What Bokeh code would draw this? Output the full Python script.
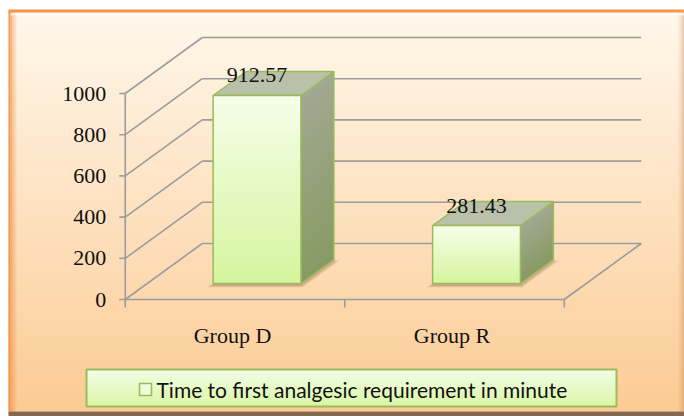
import numpy as np
from bokeh.plotting import figure
from bokeh.models import Range1d
from bokeh.core.properties import value
from bokeh.embed import file_html
from bokeh.resources import INLINE

# ---------------- data ----------------
categories = ["Group D", "Group R"]
values = [912.57, 281.43]
value_labels = ["912.57", "281.43"]
y_ticks = [0, 200, 400, 600, 800, 1000]
y_tick_labels = ["0", "200", "400", "600", "800", "1000"]
legend_label = "Time to first analgesic requirement in minute"

# ---------------- layout constants ----------------
W, H = 684, 416
PX_X = 219.5      # pixels per category slot
PX_Y = 0.206      # pixels per value unit
ORG_X, ORG_Y = 234.5, 299.0   # canvas position of (category 0, value 0)

def X(px):        # canvas x -> data x
    return (px - ORG_X) / PX_X

def Y(py):        # canvas y -> data y
    return (ORG_Y - py) / PX_Y

def sx(d):        # pixel distance -> data x distance
    return d / PX_X

def sy(d):        # pixel distance -> data y distance
    return d / PX_Y

x_start, x_end = X(0), X(W)
y_start, y_end = Y(H), Y(0)

DX, DY = sx(77), sy(56)      # full depth of the 3-D floor
T0, T1 = 0.286, 0.714        # bar depth span
HALF = 0.2                   # half bar width (category units)

p = figure(width=W, height=H, output_backend="svg", toolbar_location=None,
           x_range=Range1d(x_start, x_end), y_range=Range1d(y_start, y_end),
           x_axis_location=None, y_axis_location=None, min_border=0)
p.grid.visible = False
p.outline_line_color = None
p.background_fill_color = "#ffffff"
p.border_fill_color = "#ffffff"


def lerp_hex(c1, c2, f):
    a = [int(c1[i:i + 2], 16) for i in (1, 3, 5)]
    b = [int(c2[i:i + 2], 16) for i in (1, 3, 5)]
    return "#%02x%02x%02x" % tuple(int(round(a[k] + (b[k] - a[k]) * f)) for k in range(3))


def vgrad_quad(left, right, bottom, top, c_bottom, c_top, n=40):
    edges = np.linspace(bottom, top, n + 1)
    step = (top - bottom) / n
    cols = [lerp_hex(c_bottom, c_top, (i + 0.5) / n) for i in range(n)]
    p.quad(left=left, right=right, bottom=edges[:-1],
           top=np.minimum(edges[1:] + step * 0.6, top),
           fill_color=cols, line_color=None)

# ---------------- background / frame ----------------
vgrad_quad(X(8), x_end, Y(411), Y(9), "#fccb94", "#fff8ec", n=90)
# left bevel
for i, a in enumerate([0.85, 0.55, 0.35, 0.2]):
    p.quad(left=X(8 + 2 * i), right=X(10 + 2 * i), bottom=Y(411), top=Y(11),
           fill_color="#f08a3c", fill_alpha=a, line_color=None)
# right shade
for i, a in enumerate([0.35, 0.2, 0.1]):
    p.quad(left=X(684 - 2 * (i + 1)), right=X(684 - 2 * i), bottom=Y(411), top=Y(11),
           fill_color="#c07840", fill_alpha=a, line_color=None)
# top highlight + orange border
p.quad(left=X(10), right=X(684), bottom=Y(15), top=Y(12), fill_color="#ffffff",
       fill_alpha=0.6, line_color=None)
p.quad(left=X(8), right=X(684), bottom=Y(12), top=Y(9), fill_color="#f79646",
       line_color=None)
# bottom band
p.quad(left=X(8), right=X(684), bottom=Y(416), top=Y(411), fill_color="#86664c",
       line_color=None)

# ---------------- gridlines / walls ----------------
GRID = "#9c9c9c"
LW = 1.6
left_edge = -0.5
right_edge = len(categories) - 0.5
p.multi_line(xs=[[left_edge, left_edge + DX] for _ in y_ticks],
             ys=[[v, v + DY] for v in y_ticks], line_color=GRID, line_width=LW)
p.multi_line(xs=[[left_edge + DX, right_edge + DX] for _ in y_ticks],
             ys=[[v + DY, v + DY] for v in y_ticks], line_color=GRID, line_width=LW)
# floor front edge and right edge
p.line([left_edge, right_edge], [0, 0], line_color=GRID, line_width=LW)
p.line([right_edge, right_edge + DX], [0, DY], line_color=GRID, line_width=LW)
# y axis line and ticks
p.line([left_edge, left_edge], [0, max(y_ticks)], line_color=GRID, line_width=LW)
p.multi_line(xs=[[left_edge - sx(6), left_edge] for _ in y_ticks],
             ys=[[v, v] for v in y_ticks], line_color=GRID, line_width=LW)
# category ticks
cat_edges = np.arange(len(categories) + 1) - 0.5
p.multi_line(xs=[[c, c] for c in cat_edges], ys=[[0, -sy(8)] for _ in cat_edges],
             line_color=GRID, line_width=LW)

# ---------------- bars ----------------
EDGE = "#9bbb59"
for i, v in enumerate(values):
    c = i
    fl, fr = c - HALF + T0 * DX, c + HALF + T0 * DX
    bl, br = c - HALF + T1 * DX, c + HALF + T1 * DX
    yb0, yb1 = T0 * DY, T1 * DY
    # soft shadow
    for k, a in enumerate([0.10, 0.10, 0.12]):
        e = 6 - 2 * k
        p.patch([fl - sx(e), fr + sx(e * 0.3), br + sx(e), bl],
                [yb0 - sy(2 + e * 0.3), yb0 - sy(2 + e * 0.3), yb1 - sy(1), yb1],
                fill_color="#5a3a1a", fill_alpha=a, line_color=None)
    # side face (gradient parallelogram)
    n = 30
    xs_, ys_, cols = [], [], []
    for k in range(n):
        f0, f1 = k / n, min((k + 1.6) / n, 1.0)
        xs_.append([fr, br, br, fr])
        ys_.append([yb0 + v * f0, yb1 + v * f0, yb1 + v * f1, yb0 + v * f1])
        cols.append(lerp_hex("#879b63", "#a2a892", (k + 0.5) / n))
    p.patches(xs_, ys_, fill_color=cols, line_color=None)
    p.patch([fr, br, br, fr], [yb0, yb1, yb1 + v, yb0 + v], fill_color=None,
            line_color=EDGE, line_width=1.5)
    # top face
    p.patch([fl, fr, br, bl], [yb0 + v, yb0 + v, yb1 + v, yb1 + v],
            fill_color="#b9c1aa", line_color=EDGE, line_width=1.5)
    # front face gradient
    vgrad_quad(fl, fr, yb0, yb0 + v, "#d5f59e", "#f6fee9", n=40)
    p.quad(left=fl, right=fr, bottom=yb0, top=yb0 + v, fill_color=None,
           line_color=EDGE, line_width=1.5)

# ---------------- texts ----------------
SERIF = value("Liberation Serif")
p.text(x=[i + T0 * DX for i in range(len(values))],
       y=[v + T0 * DY + sy(20) for v in values], text=value_labels,
       text_font=SERIF, text_font_size="22px", text_align="center",
       text_baseline="middle", text_color="#111111")
p.text(x=[left_edge - sx(19)] * len(y_ticks), y=y_ticks, text=y_tick_labels,
       text_font=SERIF, text_font_size="22px", text_align="right",
       text_baseline="middle", text_color="#111111")
p.text(x=[i - sx(2.5) for i in range(len(categories))], y=[-sy(36)] * len(categories),
       text=categories, text_font=SERIF, text_font_size="22px", text_align="center",
       text_baseline="middle", text_color="#111111")

# ---------------- legend ----------------
vgrad_quad(X(86), X(616), Y(406), Y(369), "#d9f6a6", "#f4fde6", n=20)
p.quad(left=X(86), right=X(616), bottom=Y(406), top=Y(369), fill_color=None,
       line_color=EDGE, line_width=2)
p.quad(left=X(139), right=X(151), bottom=Y(395), top=Y(383), fill_color="#effcdc",
       line_color=EDGE, line_width=1.6)
p.text(x=[X(156)], y=[Y(388.5)], text=[legend_label], text_font=value("Lato"),
       text_font_size="21px", text_align="left", text_baseline="middle",
       text_color="#111111")

open("out.html", "w").write(file_html(p, INLINE))
